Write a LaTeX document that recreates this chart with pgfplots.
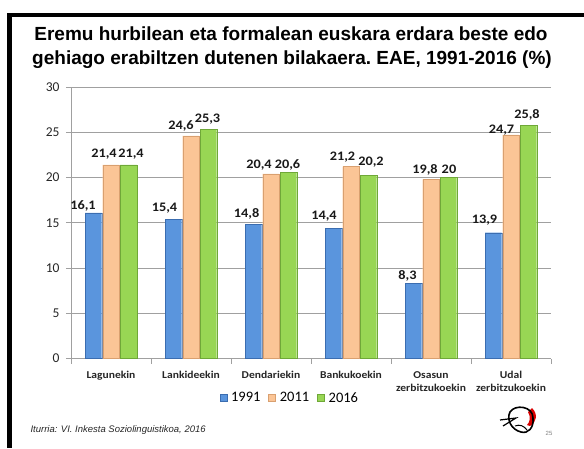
\documentclass[border=0pt]{standalone}
\usepackage{pgfplots}
\pgfplotsset{compat=1.18}
\usepackage{pgfplotstable}
\usepackage{fontspec}
\setmainfont{Liberation Sans}
\newfontfamily\carlito{Carlito}
\newfontfamily\carlitoS[FakeStretch=1.1]{Carlito}

\definecolor{cblue}{HTML}{5A95DD}
\definecolor{cblueD}{HTML}{3B6DB0}
\definecolor{corange}{HTML}{FBC596}
\definecolor{corangeD}{HTML}{D9A070}
\definecolor{cgreen}{HTML}{98D654}
\definecolor{cgreenD}{HTML}{6FA838}
\definecolor{gridgray}{HTML}{A0A0A0}

\pgfplotstableread{
x y dx dy
0 16.1 -10.5 2.8
1 15.4 -9 7.4
2 14.8 -6.8 7.3
3 14.4 -9.5 8.2
4 8.3 -6 3.4
5 13.9 -9 9.7
}\bluedata
\pgfplotstableread{
x y dx dy
0 21.4 -7 7.5
1 24.6 -10 6.6
2 20.4 -12 4.9
3 21.2 -8.5 5.9
4 19.8 -6 6.3
5 24.7 -9.5 1.5
}\orangedata
\pgfplotstableread{
x y dx dy
0 21.4 2.5 7.5
1 25.3 -1 6.8
2 20.6 -1 3.1
3 20.2 2.5 9.7
4 20 0.5 4.5
5 25.8 -1.5 7
}\greendata

\begin{document}
\begin{tikzpicture}[x=1pt,y=1pt]
\useasboundingbox (0,0) rectangle (584,448);
% slide frame
\fill[black] (7.3,0) rectangle (11.5,434.5);
\fill[black] (7.3,431.2) rectangle (584,434.7);
% title
\node[anchor=base, font=\bfseries\fontsize{19}{24}\selectfont] at (291,407) {Eremu hurbilean eta formalean euskara erdara beste edo};
\node[anchor=base, font=\bfseries\fontsize{19}{24}\selectfont] at (292,383.5) {gehiago erabiltzen dutenen bilakaera.\ EAE, 1991-2016 (\%)};

\begin{axis}[
  at={(71pt,89.5pt)}, anchor=south west,
  width=480pt, height=271.5pt, scale only axis,
  xmin=-0.5, xmax=5.5, ymin=0, ymax=30,
  ybar=1pt, bar width=16.5pt,
  axis x line*=bottom, axis y line*=left,
  axis line style={gridgray},
  ytick={0,5,...,30},
  ymajorgrids, grid style={gridgray, line width=0.6pt},
  xtick={-0.5,0.5,...,5.5},
  xticklabels={Lagunekin, Lankideekin, Dendariekin, Bankukoekin, {Osasun\\zerbitzukoekin}, {Udal\\zerbitzukoekin}, {}},
  tick align=outside, major tick length=5pt,
  tick style={gridgray, line width=0.6pt},
  x tick label style={font=\carlitoS\bfseries\fontsize{10.5}{13}\selectfont, align=center, anchor=north, xshift=40pt, yshift=-4.5pt, text=black!85},
  y tick label style={font=\carlito\fontsize{13.5}{15}\selectfont, xshift=-3pt, text=black!85},
  /pgf/number format/assume math mode=true,
  nodes near coords={\pgfmathprintnumber[use comma, fixed, precision=1]{\pgfplotspointmeta}},
  every node near coord/.append style={font=\carlitoS\bfseries\fontsize{13}{14}\selectfont, text=black!90, anchor=base, inner sep=0pt},
  visualization depends on={\thisrow{dx}\as\dx},
  visualization depends on={\thisrow{dy}\as\dy},
  legend style={at={(0.456,-0.1455)}, anchor=center, draw=none, fill=none,
    font=\carlito\fontsize{14.5}{16}\selectfont, legend columns=3,
    /tikz/every odd column/.append style={column sep=2pt},
    /tikz/every even column/.append style={column sep=6pt}},
  legend image code/.code={\fill[#1] (0pt,-3pt) rectangle (7pt,4pt);},
  clip=false,
]
\addplot[fill=cblue, draw=cblueD, line width=0.4pt,
  every node near coord/.append style={xshift=\dx pt, yshift=\dy pt}] table[x=x,y=y] {\bluedata};
\addlegendentry{1991}
\addplot[fill=corange, draw=corangeD, line width=0.4pt,
  every node near coord/.append style={xshift=\dx pt, yshift=\dy pt}] table[x=x,y=y] {\orangedata};
\addlegendentry{2011}
\addplot[fill=cgreen, draw=cgreenD, line width=0.4pt,
  every node near coord/.append style={xshift=\dx pt, yshift=\dy pt}] table[x=x,y=y] {\greendata};
\addlegendentry{2016}
\end{axis}

% source
\node[anchor=base west, font=\itshape\fontsize{9.5}{11}\selectfont, text=black!85] at (27,16) {Iturria: VI. Inkesta Soziolinguistikoa, 2016};
% page number
\node[anchor=base, font=\fontsize{6}{7}\selectfont, text=gray] at (549,13) {25};
% logo (approximate)
\begin{scope}
\fill[red!85!black] (530,22) .. controls (537,26) and (538,34) .. (532,40) -- (528,36) .. controls (531,31) and (530,26) .. (527,23) -- cycle;
\draw[black, line width=1.6pt] (533,30) .. controls (533,42) and (515,44) .. (510,36) .. controls (506,28) and (512,18) .. (521,16) .. controls (528,14) and (534,20) .. (533,30);
\draw[black, line width=1.2pt] (500,28) -- (516,30) -- (503,22);
\draw[black, line width=1pt] (515,22) .. controls (520,24) and (524,22) .. (527,18);
\end{scope}
\end{tikzpicture}
\end{document}
